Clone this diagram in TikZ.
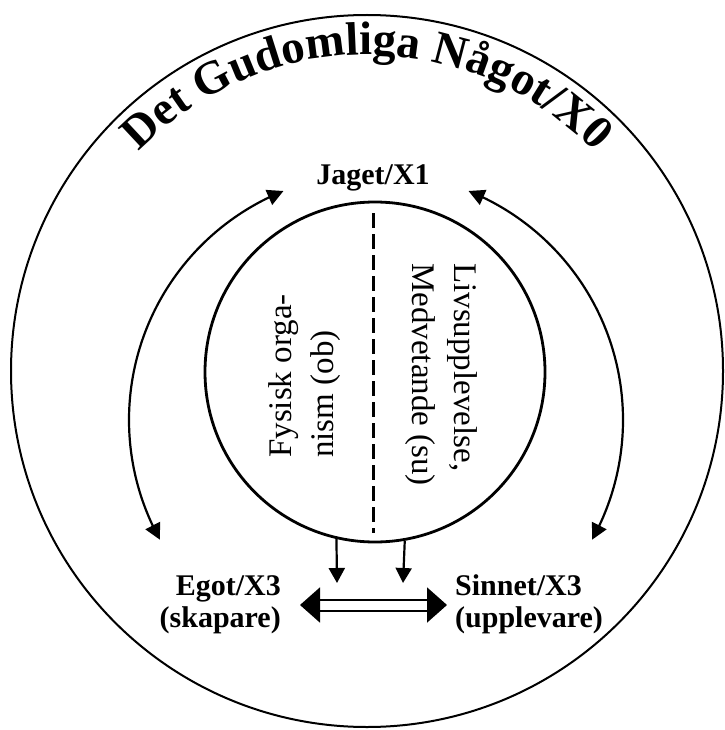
\documentclass[tikz,border=0pt]{standalone}
\usepackage{fontspec}
\setmainfont{Liberation Serif}
\usetikzlibrary{arrows.meta,decorations.text,bending,calc}
\begin{document}
\begin{tikzpicture}[x=1pt,y=1pt,
 lbl/.style={font=\bfseries\fontsize{30}{32}\selectfont, inner sep=0pt},
 rot/.style={font=\fontsize{33}{42}\selectfont, inner sep=0pt, align=left},
 arcarrow/.style={line width=2.2pt, {Triangle[length=16pt,width=16pt]}-{Triangle[length=16pt,width=16pt]}},
 downarrow/.style={line width=2.2pt, -{Triangle[length=15pt,width=16pt]}},
 dblarrow/.style={line width=2pt, double distance=9pt, {Triangle[length=20pt,width=35pt]}-{Triangle[length=20pt,width=35pt]}}]
\useasboundingbox (0,0) rectangle (724,-730);
\node[circle, draw, line width=2pt, minimum size=712pt, inner sep=0pt] (outer) at (367,-371) {};
\node[circle, draw, line width=2.8pt, minimum size=340pt, inner sep=0pt] (inner) at (375,-372) {};
\path[decorate, decoration={text along path, text align=center, text={|\bfseries\fontsize{47}{47}\selectfont|Det Gudomliga Något/X0}}] (outer.center) ++(170:316) arc[start angle=170, end angle=10, radius=316];
% dashed divider
\coordinate (dtop) at (373,-213);
\coordinate (dbot) at (373,-533);
\draw[line width=3pt, dash pattern=on 15pt off 6pt] (dtop) -- (dbot);
% labels
\node[lbl, anchor=base] (jaget) at (373,-184) {Jaget/X1};
\node[lbl, align=right, anchor=base east] (egot) at (281,-627) {Egot/X3\\(skapare)};
\node[lbl, align=left, anchor=base west] (sinnet) at (455,-627) {Sinnet/X3\\(upplevare)};
\node[rot, rotate=90, anchor=west] (fys) at (305,-458) {Fysisk orga-\\nism (ob)};
\node[rot, rotate=-90, anchor=west] (liv) at (441,-263) {Livsupplevelse,\\Medvetande (su)};
% curved arrows
\coordinate (arcc) at (376,-420);
\coordinate (l1) at ($(arcc)+(209:247)$);
\coordinate (r1) at ($(arcc)+(-29:247)$);
\draw[arcarrow] (l1) arc[start angle=209, end angle=112, radius=247];
\draw[arcarrow] (r1) arc[start angle=-29, end angle=68, radius=247];
% down arrows
\coordinate (t1) at (337,-583);
\coordinate (t2) at (403,-583);
\draw[downarrow] (inner.-103) -- (t1);
\draw[downarrow] (inner.-80.5) -- (t2);
% double arrow
\coordinate (dl) at (300,-605);
\coordinate (dr) at (447,-605);
\draw[dblarrow] (dl) -- (dr);
\end{tikzpicture}
\end{document}
